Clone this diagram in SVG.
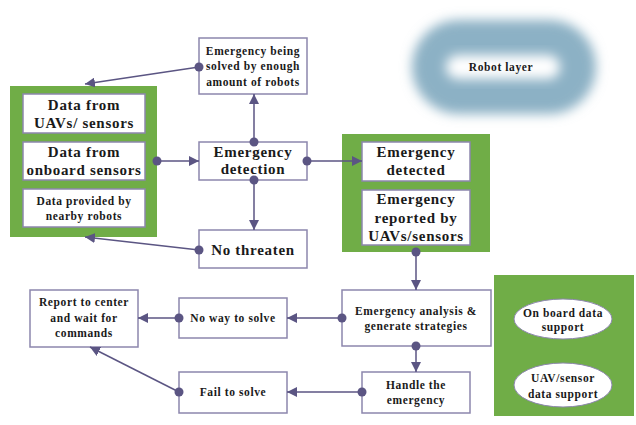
<svg xmlns="http://www.w3.org/2000/svg" width="636" height="425" viewBox="0 0 636 425">
<defs>
<style>
.panel{fill:#70ad47}
.box{fill:#fff;stroke:#8c86ad;stroke-width:1.5}
.ell{fill:#fff;stroke:#8c86ad;stroke-width:1}
text{font-family:"Liberation Serif","Times New Roman",serif;font-weight:bold;fill:#1a1a1a;text-anchor:middle;dominant-baseline:central}
.l{font-size:15px;letter-spacing:0.7px}
.s{font-size:11.5px;letter-spacing:0.6px}
.conn line{stroke:#5b5583;stroke-width:1.5}
.dot{fill:#5b5583}
</style>
<marker id="arr" viewBox="0 0 10 10" refX="10" refY="5" markerWidth="10" markerHeight="10" markerUnits="userSpaceOnUse" orient="auto">
<path d="M0,0 L10,5 L0,10 Z" fill="#5b5583"/>
</marker>
<filter id="blur" x="-20%" y="-40%" width="140%" height="180%"><feGaussianBlur stdDeviation="6"/></filter>
</defs>

<g id="robot-layer">
<rect x="412" y="20" width="184" height="94" rx="47" fill="#8cb1c5" filter="url(#blur)"/>
<rect x="446" y="55" width="114" height="24" rx="12" fill="#fff" filter="url(#blur)"/>
<text x="501" y="67" class="s">Robot layer</text>
</g>

<g id="left-panel">
<rect class="panel" x="10" y="86" width="147" height="151"/>
<g id="data-uav"><rect class="box" x="23" y="94" width="122" height="39"/>
<text x="84" y="105" class="l">Data from</text><text x="84" y="123" class="l">UAVs/ sensors</text></g>
<g id="data-onboard"><rect class="box" x="23" y="142" width="122" height="38"/>
<text x="84" y="152" class="l">Data from</text><text x="84" y="170" class="l">onboard sensors</text></g>
<g id="data-nearby"><rect class="box" x="23" y="189" width="122" height="38"/>
<text x="84" y="201" class="s">Data provided by</text><text x="84" y="216" class="s">nearby robots</text></g>
</g>

<g id="solved"><rect class="box" x="199" y="38" width="108" height="56"/>
<text x="253" y="51" class="s">Emergency being</text><text x="253" y="66" class="s">solved by enough</text><text x="253" y="82" class="s">amount of robots</text></g>

<g id="detection"><rect class="box" x="199" y="142" width="108" height="38"/>
<text x="253" y="152" class="l">Emergency</text><text x="253" y="169" class="l">detection</text></g>

<g id="no-threaten"><rect class="box" x="199" y="230" width="108" height="38"/>
<text x="253" y="250" class="l">No threaten</text></g>

<g id="right-panel">
<rect class="panel" x="342" y="134" width="148" height="118"/>
<g id="detected"><rect class="box" x="362" y="142" width="108" height="39"/>
<text x="416" y="152" class="l">Emergency</text><text x="416" y="170" class="l">detected</text></g>
<g id="reported"><rect class="box" x="362" y="190" width="108" height="55"/>
<text x="416" y="199" class="l">Emergency</text><text x="416" y="218" class="l">reported by</text><text x="416" y="236" class="l">UAVs/sensors</text></g>
</g>

<g id="analysis"><rect class="box" x="342" y="290" width="149" height="56"/>
<text x="416" y="311" class="s">Emergency analysis &amp;</text><text x="416" y="326" class="s">generate strategies</text></g>

<g id="handle"><rect class="box" x="362" y="372" width="108" height="41"/>
<text x="416" y="385" class="s">Handle the</text><text x="416" y="400" class="s">emergency</text></g>

<g id="no-way"><rect class="box" x="179" y="298" width="108" height="40"/>
<text x="233" y="318" class="s">No way to solve</text></g>

<g id="fail"><rect class="box" x="179" y="372" width="108" height="41"/>
<text x="233" y="392" class="s">Fail to solve</text></g>

<g id="report"><rect class="box" x="30" y="290" width="108" height="57"/>
<text x="84" y="302" class="s">Report to center</text><text x="84" y="318" class="s">and wait for</text><text x="84" y="333" class="s">commands</text></g>

<g id="support-panel">
<rect class="panel" x="494" y="275" width="140" height="141"/>
<g id="onboard-support"><ellipse class="ell" cx="563" cy="319" rx="49" ry="20"/>
<text x="563" y="313" class="s">On board data</text><text x="563" y="327" class="s">support</text></g>
<g id="uav-support"><ellipse class="ell" cx="563" cy="385" rx="49" ry="22"/>
<text x="563" y="378" class="s">UAV/sensor</text><text x="563" y="394" class="s">data support</text></g>
</g>

<g id="connectors" class="conn">
<line x1="199" y1="67" x2="85" y2="84" marker-end="url(#arr)"/><circle class="dot" cx="199" cy="67" r="4.5"/>
<line x1="157" y1="161" x2="199" y2="161" marker-end="url(#arr)"/><circle class="dot" cx="157" cy="161" r="4.5"/>
<line x1="254" y1="142" x2="254" y2="94" marker-end="url(#arr)"/><circle class="dot" cx="254" cy="142" r="4.5"/>
<line x1="254" y1="180" x2="254" y2="230" marker-end="url(#arr)"/><circle class="dot" cx="254" cy="180" r="4.5"/>
<line x1="307" y1="161" x2="362" y2="161" marker-end="url(#arr)"/><circle class="dot" cx="307" cy="161" r="4.5"/>
<line x1="199" y1="250" x2="85" y2="237" marker-end="url(#arr)"/><circle class="dot" cx="199" cy="250" r="4.5"/>
<line x1="416" y1="252" x2="416" y2="290" marker-end="url(#arr)"/><circle class="dot" cx="416" cy="252" r="4.5"/>
<line x1="342" y1="318" x2="287" y2="318" marker-end="url(#arr)"/><circle class="dot" cx="342" cy="318" r="4.5"/>
<line x1="179" y1="318" x2="138" y2="318" marker-end="url(#arr)"/><circle class="dot" cx="179" cy="318" r="4.5"/>
<line x1="416" y1="346" x2="416" y2="372" marker-end="url(#arr)"/><circle class="dot" cx="416" cy="346" r="4.5"/>
<line x1="362" y1="392" x2="287" y2="392" marker-end="url(#arr)"/><circle class="dot" cx="362" cy="392" r="4.5"/>
<line x1="179" y1="392" x2="90" y2="347" marker-end="url(#arr)"/><circle class="dot" cx="179" cy="392" r="4.5"/>
</g>
</svg>
